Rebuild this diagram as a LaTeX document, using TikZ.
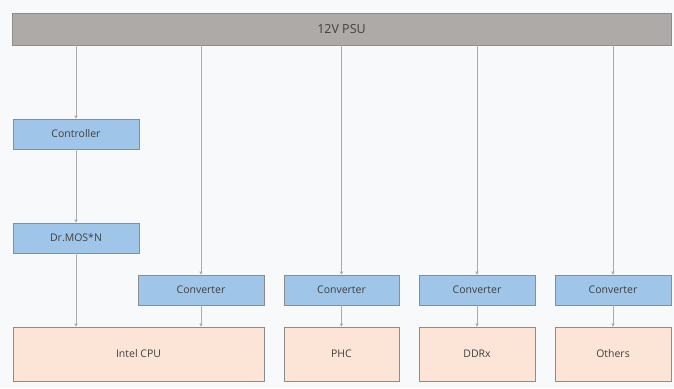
\documentclass[tikz,border=0pt]{standalone}
\usepackage{fontspec}
\setmainfont{Open Sans}
\usetikzlibrary{arrows.meta}
\definecolor{bg}{HTML}{F8F9FB}
\definecolor{psu}{HTML}{AEAAA8}
\definecolor{blu}{HTML}{9FC5E8}
\definecolor{pch}{HTML}{FCE5D6}
\definecolor{edge}{HTML}{8C8C8C}
\definecolor{wire}{HTML}{ABABAB}
\definecolor{txt}{HTML}{404040}
\tikzset{
  box/.style={draw=edge, line width=0.6pt, inner sep=0pt, text=txt, font=\fontsize{10.5}{12}\selectfont},
  bluebox/.style={box, fill=blu},
  loadbox/.style={box, fill=pch},
  wirearrow/.style={draw=wire, line width=0.6pt, -{Triangle[length=3pt,width=3pt]}},
}
\begin{document}
\begin{tikzpicture}[x=1pt,y=-1pt]
\fill[bg] (0,0) rectangle (674,388);
\useasboundingbox (0,0) rectangle (674,388);
\node[box, fill=psu, minimum width=659pt, minimum height=32pt, font=\fontsize{12.5}{14}\selectfont] (psu) at (341.5,29) {12V PSU};
\node[bluebox, minimum width=126pt, minimum height=30pt] (ctrl) at (76,134) {Controller};
\node[bluebox, minimum width=126pt, minimum height=30pt] (mos) at (76,238) {Dr.MOS*N};
\node[bluebox, minimum width=126pt, minimum height=30pt] (c1) at (201,290) {Converter};
\node[bluebox, minimum width=115pt, minimum height=30pt] (c2) at (341.5,290) {Converter};
\node[bluebox, minimum width=116pt, minimum height=30pt] (c3) at (477,290) {Converter};
\node[bluebox, minimum width=116pt, minimum height=30pt] (c4) at (613,290) {Converter};
\node[loadbox, minimum width=251pt, minimum height=54pt] (cpu) at (138.5,354) {Intel CPU};
\node[loadbox, minimum width=115pt, minimum height=54pt] (phc) at (341.5,354) {PHC};
\node[loadbox, minimum width=116pt, minimum height=54pt] (ddr) at (477,354) {DDRx};
\node[loadbox, minimum width=116pt, minimum height=54pt] (oth) at (613,354) {Others};
\draw[wirearrow] (psu.south -| ctrl.north) -- (ctrl.north);
\draw[wirearrow] (ctrl) -- (mos);
\draw[wirearrow] (mos.south) -- (mos.south |- cpu.north);
\draw[wirearrow] (psu.south -| c1.north) -- (c1.north);
\draw[wirearrow] (psu.south -| c2.north) -- (c2.north);
\draw[wirearrow] (psu.south -| c3.north) -- (c3.north);
\draw[wirearrow] (psu.south -| c4.north) -- (c4.north);
\draw[wirearrow] (c1.south) -- (c1.south |- cpu.north);
\draw[wirearrow] (c2) -- (phc);
\draw[wirearrow] (c3) -- (ddr);
\draw[wirearrow] (c4) -- (oth);
\end{tikzpicture}
\end{document}
